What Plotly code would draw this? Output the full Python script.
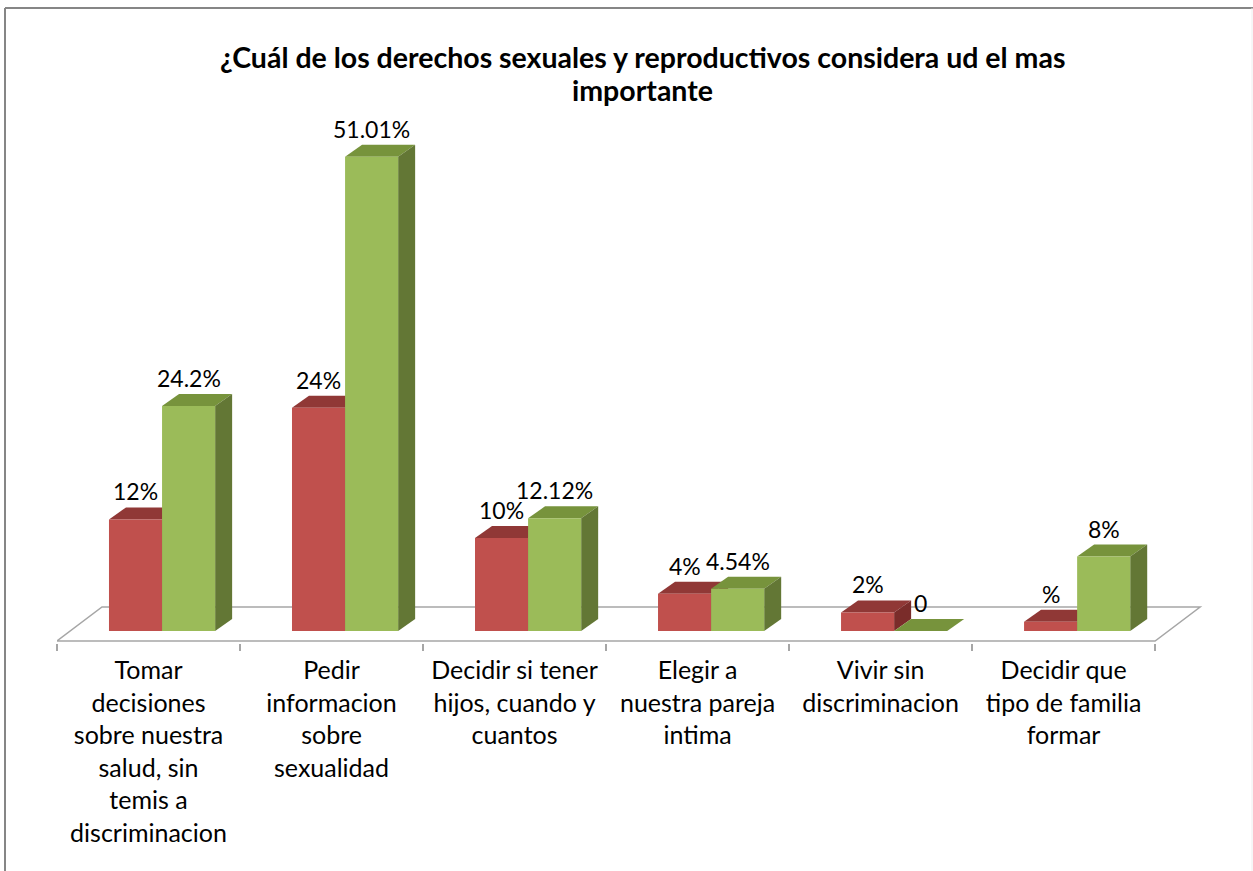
import plotly.graph_objects as go

# ---------------- data ----------------
categories = [
    "Tomar<br>decisiones<br>sobre nuestra<br>salud, sin<br>temis a<br>discriminacion",
    "Pedir<br>informacion<br>sobre<br>sexualidad",
    "Decidir si tener<br>hijos, cuando y<br>cuantos",
    "Elegir a<br>nuestra pareja<br>intima",
    "Vivir sin<br>discriminacion",
    "Decidir que<br>tipo de familia<br>formar",
]
serie_roja = [12, 24, 10, 4, 2, 1]
serie_verde = [24.2, 51.01, 12.12, 4.54, 0, 8]
etiquetas_roja = ["12%", "24%", "10%", "4%", "2%", "%"]
etiquetas_verde = ["24.2%", "51.01%", "12.12%", "4.54%", "0", "8%"]
titulo_lineas = ["¿Cuál de los derechos sexuales y reproductivos considera ud el mas", "importante"]

# ---------------- style / geometry ----------------
W, H = 1253, 871
PLOT_L, PLOT_R = 57, 1210     # pixel edges of plot area
PLOT_T, PLOT_B = 140, 643
X_RANGE = [-0.5, 5.8]
Y_RANGE = [-1.29, 52.8]
BAR_W = 0.29
OFF_RED, OFF_GREEN = -0.216, 0.074
ppx = (PLOT_R - PLOT_L) / (X_RANGE[1] - X_RANGE[0])
ppy = (PLOT_B - PLOT_T) / (Y_RANGE[1] - Y_RANGE[0])
DX = 17 / ppx     # depth offset (data units)
DY = 12 / ppy

RED = "#C0504D"; RED_TOP = "#903836"; RED_SIDE = "#7A2C2A"
GRN = "#9BBB59"; GRN_TOP = "#77933C"; GRN_SIDE = "#637735"
FONT = "Lato"

xpos = list(range(len(categories)))

fig = go.Figure()
for vals, off, col, name in [(serie_roja, OFF_RED, RED, "A"), (serie_verde, OFF_GREEN, GRN, "B")]:
    fig.add_trace(go.Bar(x=xpos, y=vals, width=BAR_W, offset=off, name=name,
                         marker=dict(color=col, line=dict(width=0)), showlegend=False,
                         hoverinfo="skip"))

shapes = []
# floor
fl_front = -10 / ppy
fl_back = 24 / ppy
fl_dx = 45 / ppx
shapes.append(dict(type="path", xref="x", yref="y", layer="below",
                   path=f"M {-0.5},{fl_front} L {5.5},{fl_front} L {5.5+fl_dx},{fl_back} L {-0.5+fl_dx},{fl_back} Z",
                   fillcolor="white", line=dict(color="#A6A6A6", width=1.5)))

def faces(vals, off, top, side):
    out = []
    for i, v in zip(xpos, vals):
        x0 = i + off
        x1 = x0 + BAR_W
        out.append(dict(type="path", xref="x", yref="y", layer="below",
                        path=f"M {x0},{v} L {x1},{v} L {x1+DX},{v+DY} L {x0+DX},{v+DY} Z",
                        fillcolor=top, line=dict(width=0)))
        out.append(dict(type="path", xref="x", yref="y", layer="below",
                        path=f"M {x1},0 L {x1},{v} L {x1+DX},{v+DY} L {x1+DX},{DY} Z",
                        fillcolor=side, line=dict(width=0)))
    return out

shapes += faces(serie_roja, OFF_RED, RED_TOP, RED_SIDE)
shapes += faces(serie_verde, OFF_GREEN, GRN_TOP, GRN_SIDE)

# chart border (top + left), in paper coords
def px2paper_x(px):
    return (px - PLOT_L) / (PLOT_R - PLOT_L)
def px2paper_y(py):
    return (PLOT_B - py) / (PLOT_B - PLOT_T)
shapes.append(dict(type="line", xref="paper", yref="paper",
                   x0=px2paper_x(5), x1=px2paper_x(1253), y0=px2paper_y(8), y1=px2paper_y(8),
                   line=dict(color="#868686", width=2)))
shapes.append(dict(type="line", xref="paper", yref="paper",
                   x0=px2paper_x(5), x1=px2paper_x(5), y0=px2paper_y(8), y1=px2paper_y(875),
                   line=dict(color="#868686", width=2)))
shapes.append(dict(type="line", xref="paper", yref="paper",
                   x0=px2paper_x(1252), x1=px2paper_x(1252), y0=px2paper_y(8), y1=px2paper_y(875),
                   line=dict(color="#EEEEEE", width=1)))

annotations = []
for vals, labs, off in [(serie_roja, etiquetas_roja, OFF_RED), (serie_verde, etiquetas_verde, OFF_GREEN)]:
    for i, v, t in zip(xpos, vals, labs):
        annotations.append(dict(x=i + off + BAR_W / 2, y=v, xref="x", yref="y", text=t,
                                showarrow=False, yanchor="middle", yshift=28,
                                font=dict(family=FONT, size=23, color="black")))

# title, two lines
for linea, cy in zip(titulo_lineas, [57, 90]):
    annotations.append(dict(x=px2paper_x(642), y=px2paper_y(cy), xref="paper", yref="paper",
                            text=linea, showarrow=False, xanchor="center", yanchor="middle",
                            font=dict(family=FONT, size=28.5, color="black", weight="bold")))

fig.update_layout(
    width=W, height=H, autosize=False,
    margin=dict(l=PLOT_L, r=W - PLOT_R, t=PLOT_T, b=H - PLOT_B, pad=0),
    paper_bgcolor="white", plot_bgcolor="white",
    barmode="overlay",
    xaxis=dict(range=X_RANGE, showgrid=False, zeroline=False, showline=False,
               tickmode="array", tickvals=xpos, ticktext=categories, ticks="",
               tickfont=dict(family=FONT, size=25, color="black"),
               ticklabelstandoff=10,
               minor=dict(tickmode="array", tickvals=[k - 0.5 for k in range(len(categories) + 1)],
                          ticks="outside", ticklen=7, tickwidth=1.5, tickcolor="#A6A6A6")),
    yaxis=dict(range=Y_RANGE, visible=False),
    shapes=shapes, annotations=annotations,
)

fig.write_html("out.html", config={"displayModeBar": False},
               post_script="document.body.style.margin='0';document.body.style.overflow='hidden';")
